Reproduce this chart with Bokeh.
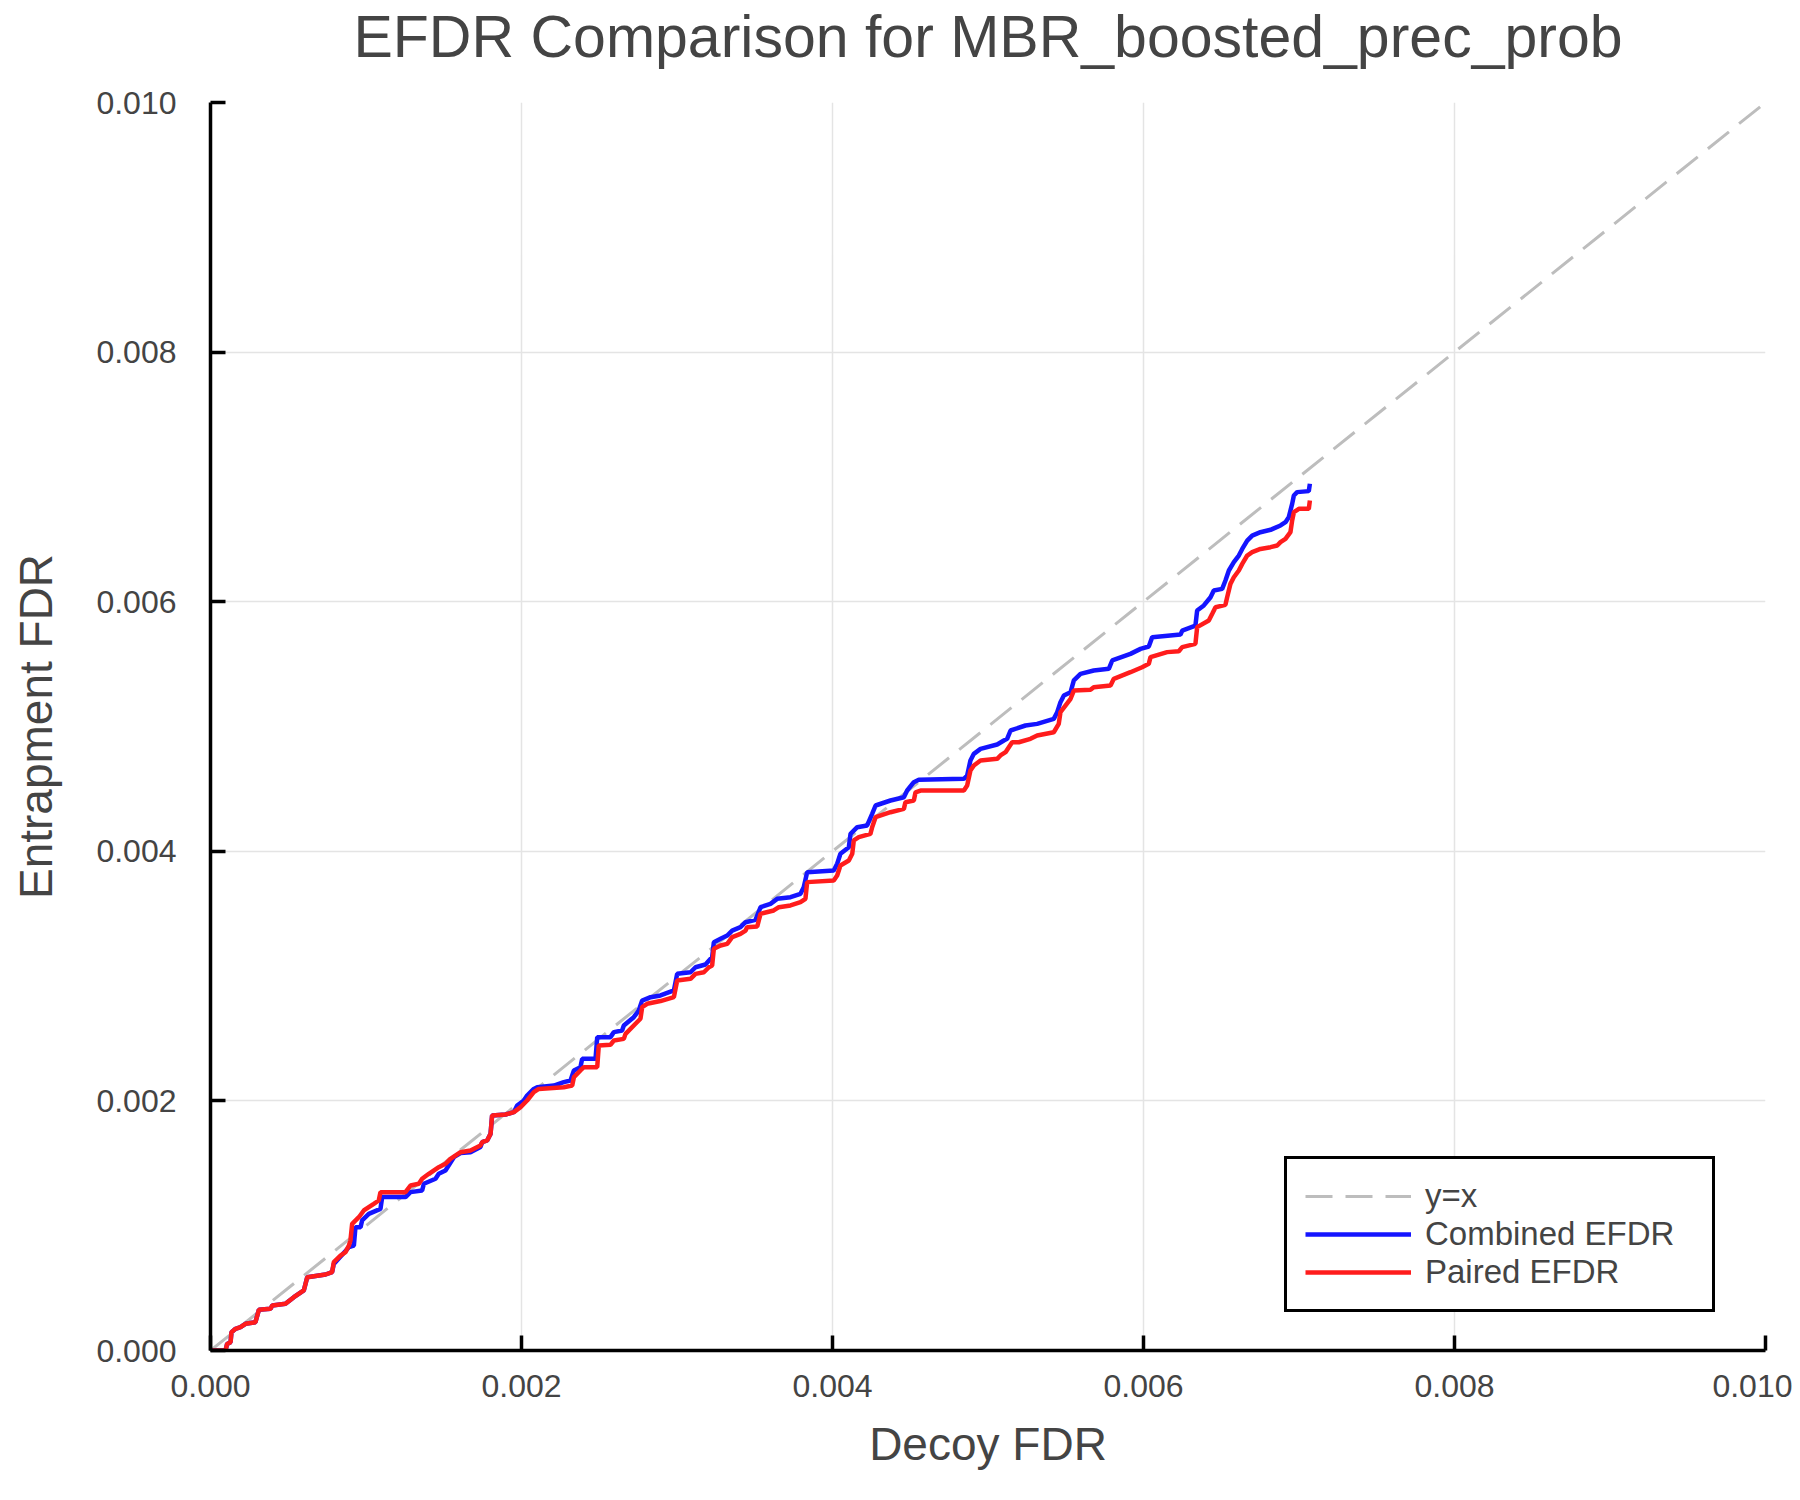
from bokeh.plotting import figure
from bokeh.models import Range1d, FixedTicker, Legend, LegendItem, Title
from bokeh.embed import file_html
from bokeh.resources import INLINE

# ---------------- data ----------------
title_text = "EFDR Comparison for MBR_boosted_prec_prob"
x_label = "Decoy FDR"
y_label = "Entrapment FDR"

tick_values = [0.0, 0.002, 0.004, 0.006, 0.008, 0.010]
tick_labels = ["0.000", "0.002", "0.004", "0.006", "0.008", "0.010"]

diag_x = [0.0, 0.010]
diag_y = [0.0, 0.010]

# Combined EFDR (blue)
combined_x = [
    0.0, 0.0000965, 0.000107, 0.000129, 0.000135, 0.000161, 0.000193, 0.000225, 0.000289, 0.000311,
    0.000386, 0.000397, 0.000482, 0.000536, 0.000600, 0.000622, 0.000740, 0.000782, 0.000793, 0.000890,
    0.000922, 0.000932, 0.000965, 0.000975, 0.001018, 0.001093, 0.001104, 0.001254, 0.001286, 0.001361,
    0.001372, 0.001447, 0.001468, 0.001511, 0.001565, 0.001608, 0.001672, 0.001736, 0.001747, 0.001779,
    0.001801, 0.001811, 0.001897, 0.001951, 0.001972, 0.002015, 0.002036, 0.002079, 0.002101, 0.002208,
    0.002272, 0.002315, 0.002337, 0.002379, 0.002390, 0.002476, 0.002487, 0.002572, 0.002594, 0.002647,
    0.002658, 0.002722, 0.002754, 0.002776, 0.002830, 0.002894, 0.002980, 0.003001, 0.003087, 0.003119,
    0.003183, 0.003226, 0.003237, 0.003280, 0.003323, 0.003355, 0.003408, 0.003441, 0.003505, 0.003537,
    0.003601, 0.003644, 0.003730, 0.003794, 0.003815, 0.003837, 0.004008, 0.004030, 0.004051, 0.004105,
    0.004116, 0.004159, 0.004223, 0.004255, 0.004277, 0.004373, 0.004459, 0.004480, 0.004523, 0.004555,
    0.004845, 0.004866, 0.004887, 0.004909, 0.004952, 0.005059, 0.005102, 0.005123, 0.005145, 0.005241,
    0.005316, 0.005423, 0.005445, 0.005466, 0.005488, 0.005531, 0.005552, 0.005595, 0.005680, 0.005777,
    0.005799, 0.005916, 0.005981, 0.006034, 0.006056, 0.006238, 0.006249, 0.006334, 0.006345, 0.006388,
    0.006431, 0.006452, 0.006506, 0.006527, 0.006549, 0.006581, 0.006613, 0.006635, 0.006667, 0.006699,
    0.006752, 0.006817, 0.006881, 0.006913, 0.006934, 0.006956, 0.006967, 0.006988, 0.007063, 0.007070,
]
combined_y = [
    0.0, 0.0, 0.000053, 0.000067, 0.000147, 0.000174, 0.000187, 0.000214, 0.000227, 0.000326,
    0.000334, 0.000361, 0.000374, 0.000427, 0.000481, 0.000587, 0.000609, 0.000628, 0.000694, 0.000828,
    0.000841, 0.000988, 0.000988, 0.001042, 0.001095, 0.001135, 0.001229, 0.001229, 0.001269, 0.001282,
    0.001336, 0.001376, 0.001416, 0.001442, 0.001549, 0.001582, 0.001589, 0.001630, 0.001669, 0.001683,
    0.001736, 0.001883, 0.001891, 0.001910, 0.001963, 0.002003, 0.002043, 0.002096, 0.002110, 0.002123,
    0.002150, 0.002163, 0.002244, 0.002270, 0.002337, 0.002337, 0.002511, 0.002511, 0.002551, 0.002564,
    0.002604, 0.002671, 0.002724, 0.002804, 0.002831, 0.002845, 0.002885, 0.003018, 0.003031, 0.003071,
    0.003093, 0.003152, 0.003272, 0.003299, 0.003325, 0.003365, 0.003392, 0.003432, 0.003451, 0.003552,
    0.003579, 0.003619, 0.003632, 0.003659, 0.003712, 0.003833, 0.003846, 0.003900, 0.003980, 0.004033,
    0.004140, 0.004193, 0.004207, 0.004300, 0.004367, 0.004407, 0.004433, 0.004487, 0.004554, 0.004573,
    0.004581, 0.004607, 0.004728, 0.004781, 0.004821, 0.004856, 0.004888, 0.004901, 0.004968, 0.005008,
    0.005021, 0.005061, 0.005115, 0.005195, 0.005248, 0.005275, 0.005369, 0.005422, 0.005449, 0.005462,
    0.005529, 0.005582, 0.005622, 0.005641, 0.005716, 0.005737, 0.005769, 0.005809, 0.005929, 0.005970,
    0.006036, 0.006090, 0.006103, 0.006170, 0.006250, 0.006317, 0.006370, 0.006423, 0.006490, 0.006530,
    0.006557, 0.006576, 0.006611, 0.006637, 0.006677, 0.006784, 0.006851, 0.006878, 0.006886, 0.006945,
]

# Paired EFDR (red)
paired_x = [
    0.0, 0.0000965, 0.000107, 0.000129, 0.000135, 0.000161, 0.000193, 0.000225, 0.000289, 0.000311,
    0.000386, 0.000397, 0.000482, 0.000536, 0.000600, 0.000622, 0.000740, 0.000782, 0.000793, 0.000836,
    0.000868, 0.000890, 0.000900, 0.000911, 0.000954, 0.000986, 0.001050, 0.001082, 0.001093, 0.001254,
    0.001286, 0.001340, 0.001361, 0.001404, 0.001468, 0.001511, 0.001543, 0.001608, 0.001672, 0.001736,
    0.001747, 0.001779, 0.001801, 0.001811, 0.001897, 0.001951, 0.001994, 0.002036, 0.002079, 0.002111,
    0.002272, 0.002326, 0.002337, 0.002379, 0.002401, 0.002487, 0.002497, 0.002572, 0.002594, 0.002658,
    0.002669, 0.002733, 0.002765, 0.002776, 0.002808, 0.002894, 0.002980, 0.003001, 0.003087, 0.003119,
    0.003173, 0.003205, 0.003226, 0.003237, 0.003280, 0.003323, 0.003355, 0.003408, 0.003441, 0.003451,
    0.003516, 0.003537, 0.003622, 0.003655, 0.003730, 0.003794, 0.003826, 0.003837, 0.004008, 0.004030,
    0.004051, 0.004105, 0.004127, 0.004137, 0.004169, 0.004244, 0.004255, 0.004277, 0.004373, 0.004459,
    0.004469, 0.004523, 0.004534, 0.004566, 0.004845, 0.004866, 0.004887, 0.004909, 0.004952, 0.005059,
    0.005080, 0.005113, 0.005155, 0.005198, 0.005273, 0.005316, 0.005423, 0.005455, 0.005466, 0.005498,
    0.005531, 0.005552, 0.005659, 0.005680, 0.005788, 0.005809, 0.005916, 0.005991, 0.006034, 0.006045,
    0.006152, 0.006227, 0.006249, 0.006334, 0.006345, 0.006420, 0.006442, 0.006463, 0.006527, 0.006538,
    0.006559, 0.006581, 0.006613, 0.006635, 0.006667, 0.006699, 0.006752, 0.006817, 0.006860, 0.006881,
    0.006913, 0.006945, 0.006956, 0.006967, 0.006999, 0.007063, 0.007070,
]
paired_y = [
    0.0, 0.0, 0.000053, 0.000067, 0.000147, 0.000174, 0.000187, 0.000214, 0.000227, 0.000326,
    0.000334, 0.000361, 0.000374, 0.000427, 0.000481, 0.000587, 0.000609, 0.000628, 0.000708, 0.000761,
    0.000788, 0.000841, 0.000881, 0.001015, 0.001068, 0.001122, 0.001175, 0.001202, 0.001269, 0.001269,
    0.001322, 0.001336, 0.001376, 0.001416, 0.001469, 0.001496, 0.001536, 0.001589, 0.001603, 0.001643,
    0.001669, 0.001683, 0.001736, 0.001883, 0.001891, 0.001910, 0.001950, 0.002003, 0.002070, 0.002096,
    0.002110, 0.002123, 0.002190, 0.002244, 0.002270, 0.002270, 0.002444, 0.002449, 0.002484, 0.002497,
    0.002537, 0.002618, 0.002658, 0.002751, 0.002778, 0.002800, 0.002831, 0.002965, 0.002978, 0.003018,
    0.003031, 0.003071, 0.003085, 0.003219, 0.003245, 0.003258, 0.003312, 0.003338, 0.003365, 0.003392,
    0.003397, 0.003499, 0.003526, 0.003552, 0.003566, 0.003592, 0.003619, 0.003753, 0.003766, 0.003806,
    0.003886, 0.003926, 0.003980, 0.004087, 0.004113, 0.004140, 0.004193, 0.004273, 0.004313, 0.004340,
    0.004393, 0.004407, 0.004473, 0.004487, 0.004487, 0.004527, 0.004647, 0.004688, 0.004728, 0.004741,
    0.004768, 0.004794, 0.004874, 0.004874, 0.004901, 0.004928, 0.004954, 0.005021, 0.005115, 0.005168,
    0.005222, 0.005288, 0.005294, 0.005315, 0.005329, 0.005382, 0.005435, 0.005475, 0.005502, 0.005556,
    0.005596, 0.005603, 0.005636, 0.005662, 0.005796, 0.005849, 0.005903, 0.005956, 0.005975, 0.006036,
    0.006143, 0.006196, 0.006250, 0.006303, 0.006370, 0.006397, 0.006423, 0.006437, 0.006450, 0.006477,
    0.006503, 0.006557, 0.006651, 0.006717, 0.006744, 0.006744, 0.006811,
]

legend_labels = ["y=x", "Combined EFDR", "Paired EFDR"]

# ---------------- styling ----------------
FONT = "Liberation Sans"
TXT = "#444444"
BLUE = "#1414ff"
RED = "#ff1c1c"
GRAY = "#bdbdbd"

p = figure(
    width=1792, height=1492,
    x_range=Range1d(0, 0.010), y_range=Range1d(0, 0.010),
    output_backend="svg", toolbar_location=None,
    min_border_left=210, min_border_right=27, min_border_top=102, min_border_bottom=142,
)
p.outline_line_color = None
p.background_fill_color = "white"
p.border_fill_color = "white"

# spacer panel between frame and title, then the title itself (outermost)
spacer = Title(text=" ", text_font_size="1px", standoff=30, text_color="white")
p.add_layout(spacer, "above")
main_title = Title(
    text=title_text, align="center", standoff=0,
    text_font=FONT, text_font_size="59px", text_font_style="normal", text_color=TXT,
)
p.add_layout(main_title, "above")

ticker = FixedTicker(ticks=tick_values)
overrides = {v: s for v, s in zip(tick_values, tick_labels)}
for ax, lab in ((p.xaxis[0], x_label), (p.yaxis[0], y_label)):
    ax.ticker = ticker
    ax.major_label_overrides = overrides
    ax.axis_label = lab
    ax.axis_label_text_font = FONT
    ax.axis_label_text_font_size = "46px"
    ax.axis_label_text_font_style = "normal"
    ax.axis_label_text_color = TXT
    ax.major_label_text_font = FONT
    ax.major_label_text_font_size = "32px"
    ax.major_label_text_color = TXT
    ax.axis_line_color = "black"
    ax.axis_line_width = 3.5
    ax.major_tick_line_color = "black"
    ax.major_tick_line_width = 3.5
    ax.major_tick_in = 15
    ax.major_tick_out = 0
    ax.minor_tick_line_color = None

p.xaxis[0].major_label_standoff = 24
p.yaxis[0].major_label_standoff = 34
p.xaxis[0].axis_label_standoff = 18
p.yaxis[0].axis_label_standoff = 31

for g in (p.xgrid[0], p.ygrid[0]):
    g.ticker = ticker
    g.grid_line_color = "#e4e4e4"
    g.grid_line_width = 1.5

r_diag = p.line(diag_x, diag_y, line_color=GRAY, line_width=3, line_dash="27 13")
r_comb = p.line(combined_x, combined_y, line_color=BLUE, line_width=4.5)
r_pair = p.line(paired_x, paired_y, line_color=RED, line_width=4.5)

legend = Legend(
    items=[
        LegendItem(label=legend_labels[0], renderers=[r_diag]),
        LegendItem(label=legend_labels[1], renderers=[r_comb]),
        LegendItem(label=legend_labels[2], renderers=[r_pair]),
    ],
    location=(1074, 38),
    orientation="vertical",
    padding=18, spacing=0, margin=0,
    glyph_width=106, glyph_height=38, label_height=38, label_width=269,
    label_standoff=14,
    label_text_font=FONT, label_text_font_size="33px", label_text_color=TXT,
    border_line_color="black", border_line_width=3, border_line_alpha=1.0,
    background_fill_color="white", background_fill_alpha=1.0,
)
p.add_layout(legend)

open("out.html", "w").write(file_html(p, INLINE))
